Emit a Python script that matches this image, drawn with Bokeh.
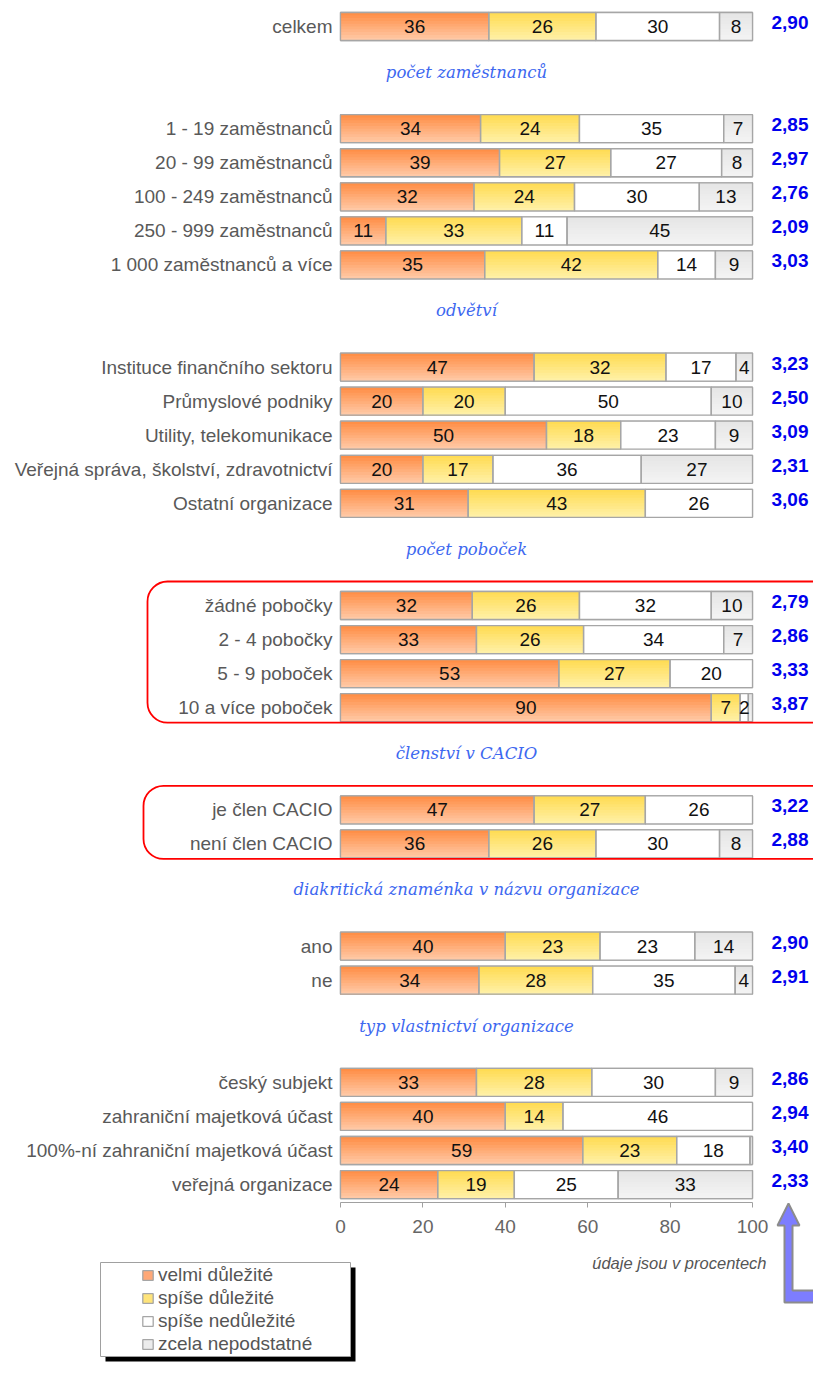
from bokeh.plotting import figure
from bokeh.models import (ColumnDataSource, Range1d, LinearAxis, FixedTicker,
                          BoxAnnotation, Legend, LegendItem)
from bokeh.core.properties import value
from bokeh.embed import file_html
from bokeh.resources import INLINE

# ---------------- data ----------------
categories = [
    "celkem",
    "1 - 19 zaměstnanců", "20 - 99 zaměstnanců", "100 - 249 zaměstnanců",
    "250 - 999 zaměstnanců", "1 000 zaměstnanců a více",
    "Instituce finančního sektoru", "Průmyslové podniky", "Utility, telekomunikace",
    "Veřejná správa, školství, zdravotnictví", "Ostatní organizace",
    "žádné pobočky", "2 - 4 pobočky", "5 - 9 poboček", "10 a více poboček",
    "je člen CACIO", "není člen CACIO",
    "ano", "ne",
    "český subjekt", "zahraniční majetková účast",
    "100%-ní zahraniční majetková účast", "veřejná organizace",
]
velmi_dulezite = [36, 34, 38.6, 32.4, 11, 35, 47, 20, 50, 20, 31, 32, 33, 53, 90, 47, 36, 40, 33.6, 33, 40, 58.8, 23.6]
spise_dulezite = [26, 24, 27.0, 24.4, 33, 42, 32, 20, 18, 17, 43, 26, 26, 27, 7, 27, 26, 23, 27.6, 28, 14, 22.8, 18.6]
spise_nedulezite = [30, 35, 26.9, 30.3, 11, 14, 17, 50, 23, 36, 26, 32, 34, 20, 2, 26, 30, 23, 34.6, 30, 46, 17.8, 25.2]
zcela_nepodstatne = [8, 7, 7.5, 12.9, 45, 9, 4, 10, 9, 27, 0, 10, 7, 0, 1, 0, 8, 14, 4.2, 9, 0, 0.6, 32.6]
means = [2.90, 2.85, 2.97, 2.76, 2.09, 3.03, 3.23, 2.50, 3.09, 2.31, 3.06,
         2.79, 2.86, 3.33, 3.87, 3.22, 2.88, 2.90, 2.91, 2.86, 2.94, 3.40, 2.33]

group_titles = [None, "počet zaměstnanců", "odvětví", "počet poboček", "členství v CACIO",
                "diakritická znaménka v názvu organizace", "typ vlastnictví organizace"]
group_sizes = [1, 5, 5, 4, 2, 2, 4]
highlight_groups = [3, 4]
series_names = ["velmi důležité", "spíše důležité", "spíše nedůležité", "zcela nepodstatné"]
ticks = [0, 20, 40, 60, 80, 100]
note_text = "údaje jsou v procentech"

# ---------------- layout / style ----------------
W, H = 813, 1376
PAGE = 0
X0_PX, X100_PX = 340, 752
ROW0_PX, ROW_PITCH = 26, 34.06
BAR_H = 28 / ROW_PITCH
FONT = value("Liberation Sans")
FS = "19px"


def sx(px):
    return (px - X0_PX) * 100.0 / (X100_PX - X0_PX)


def sy(py):
    return (py - ROW0_PX) / ROW_PITCH


grad = [((255, 140, 66), (255, 203, 170)),
        ((255, 219, 80), (255, 241, 170)),
        ((255, 255, 255), (255, 255, 255)),
        ((229, 229, 229), (244, 244, 244))]
mid_colors = ["#ffa877", "#ffe47a", "#ffffff", "#ececec"]
OUTLINE = "#a6a6a6"


def lerp(c0, c1, t):
    return "#%02x%02x%02x" % tuple(int(round(a + (b - a) * t)) for a, b in zip(c0, c1))


# slots (row positions) derived from group structure
slots, header_slots, group_rows = [], [], []
last = None
for gi, n in enumerate(group_sizes):
    start = 0 if last is None else last + 3
    if last is not None:
        header_slots.append(last + 1.35)
    rows = list(range(start, start + n))
    group_rows.append(rows)
    slots += rows
    last = rows[-1]

p = figure(width=W, height=H,
           x_range=Range1d(sx(PAGE), sx(PAGE + W)),
           y_range=Range1d(sy(PAGE + H), sy(PAGE)),
           output_backend="svg", toolbar_location=None,
           x_axis_location=None, y_axis_location=None,
           min_border=0, outline_line_color=None,
           background_fill_color="white", border_fill_color="white")
p.xgrid.visible = False
p.ygrid.visible = False

# ---------------- bars ----------------
series = [velmi_dulezite, spise_dulezite, spise_nedulezite, zcela_nepodstatne]
N_STRIPS = 10
base_renderers = []
left_acc = [0.0] * len(categories)
seg_l, seg_r, seg_t, seg_b = [], [], [], []
lab_x, lab_y, lab_t = [], [], []
for k, vals in enumerate(series):
    bl, br, bt, bb = [], [], [], []
    gl, gr, gt, gb, gc = [], [], [], [], []
    for i, v in enumerate(vals):
        l = left_acc[i]
        r = l + v
        left_acc[i] = r
        if v <= 0:
            continue
        top = slots[i] - BAR_H / 2
        bot = slots[i] + BAR_H / 2
        bl.append(l); br.append(r); bt.append(top); bb.append(bot)
        for j in range(N_STRIPS):
            gl.append(l); gr.append(r)
            gt.append(top + j * BAR_H / N_STRIPS); gb.append(bot)
            gc.append(lerp(grad[k][0], grad[k][1], (j + 0.5) / N_STRIPS))
        seg_l.append(l); seg_r.append(r); seg_t.append(top); seg_b.append(bot)
        if round(v) >= 2:
            lab_x.append(l + v / 2); lab_y.append(slots[i]); lab_t.append(str(int(round(v))))
    br_ = p.quad(left=bl, right=br, top=bt, bottom=bb, fill_color=mid_colors[k],
                 line_color=OUTLINE, line_width=1.3)
    base_renderers.append(br_)
    p.quad(source=ColumnDataSource(dict(l=gl, r=gr, t=gt, b=gb, c=gc)),
           left="l", right="r", top="t", bottom="b", fill_color="c", line_color=None)

p.quad(left=seg_l, right=seg_r, top=seg_t, bottom=seg_b, fill_color=None,
       line_color=OUTLINE, line_width=1.3)

p.text(x=lab_x, y=lab_y, text=lab_t, text_align="center", text_baseline="middle",
       text_font=FONT, text_font_size=FS, text_color="#111111")

# category labels
p.text(x=[sx(332)] * len(categories), y=slots, text=categories, text_align="right",
       text_baseline="middle", text_font=FONT, text_font_size=FS, text_color="#595959")

# mean values
p.text(x=[sx(771)] * len(means), y=[s - 4 / ROW_PITCH for s in slots],
       text=[f"{m:.2f}".replace(".", ",") for m in means], text_align="left",
       text_baseline="middle", text_font=FONT, text_font_size=FS,
       text_font_style="bold", text_color="#0000ee")

# group headers
p.text(x=[sx(466)] * len(header_slots), y=header_slots, text=group_titles[1:],
       text_align="center", text_baseline="middle", text_font=value("DejaVu Serif"),
       text_font_style="italic", text_font_size="16.5px", text_color="#3d68f0")

# highlight boxes
box_left_px = [147, 143]
for g, lpx in zip(highlight_groups, box_left_px):
    rows = group_rows[g]
    p.add_layout(BoxAnnotation(left=sx(lpx), right=sx(870),
                               top=rows[0] - BAR_H / 2 - 10 / ROW_PITCH,
                               bottom=rows[-1] + BAR_H / 2 + 1 / ROW_PITCH,
                               fill_alpha=0, fill_color=None, line_color="#ff0000",
                               line_alpha=1.0, line_width=1.8, border_radius=20))

# axis
ax = LinearAxis(fixed_location=sy(1202), ticker=FixedTicker(ticks=ticks), bounds=(0, 100),
                axis_line_color="#a0a0a0", major_tick_line_color="#a0a0a0",
                major_tick_out=5, major_tick_in=0, minor_tick_out=0, minor_tick_in=0,
                major_label_text_font="Liberation Sans", major_label_text_font_size=FS,
                major_label_text_color="#666666", major_label_standoff=12)
p.add_layout(ax, "below")

# note
p.text(x=[sx(766)], y=[sy(1262)], text=[note_text], text_align="right", text_baseline="middle",
       text_font=FONT, text_font_style="italic", text_font_size="16.5px", text_color="#555555")

# arrow decoration
arrow_px = [(788, 1203), (799, 1225), (792, 1225), (792, 1290), (840, 1290), (840, 1302),
            (784, 1302), (784, 1225), (777, 1225)]
p.patch(x=[sx(a) for a, b in arrow_px], y=[sy(b) for a, b in arrow_px],
        fill_color="#7d7dff", line_color="#8c8c8c", line_width=2)

# legend box with shadow
p.quad(left=[sx(105)], right=[sx(355)], top=[sy(1267)], bottom=[sy(1361)],
       fill_color="black", line_color=None)
p.quad(left=[sx(100)], right=[sx(350)], top=[sy(1262)], bottom=[sy(1356)],
       fill_color="white", line_color="#a0a0a0", line_width=1)

legend = Legend(items=[LegendItem(label=n, renderers=[r]) for n, r in zip(series_names, base_renderers)],
                location=(141 - PAGE, (PAGE + H) - 1355.5), orientation="vertical",
                padding=0, margin=0, spacing=0,
                glyph_width=13, glyph_height=12, label_height=23, label_standoff=4,
                label_text_font="Liberation Sans", label_text_font_size=FS,
                label_text_color="#555555", border_line_alpha=0, background_fill_alpha=0)
p.add_layout(legend)

open("out.html", "w").write(file_html(p, INLINE))
